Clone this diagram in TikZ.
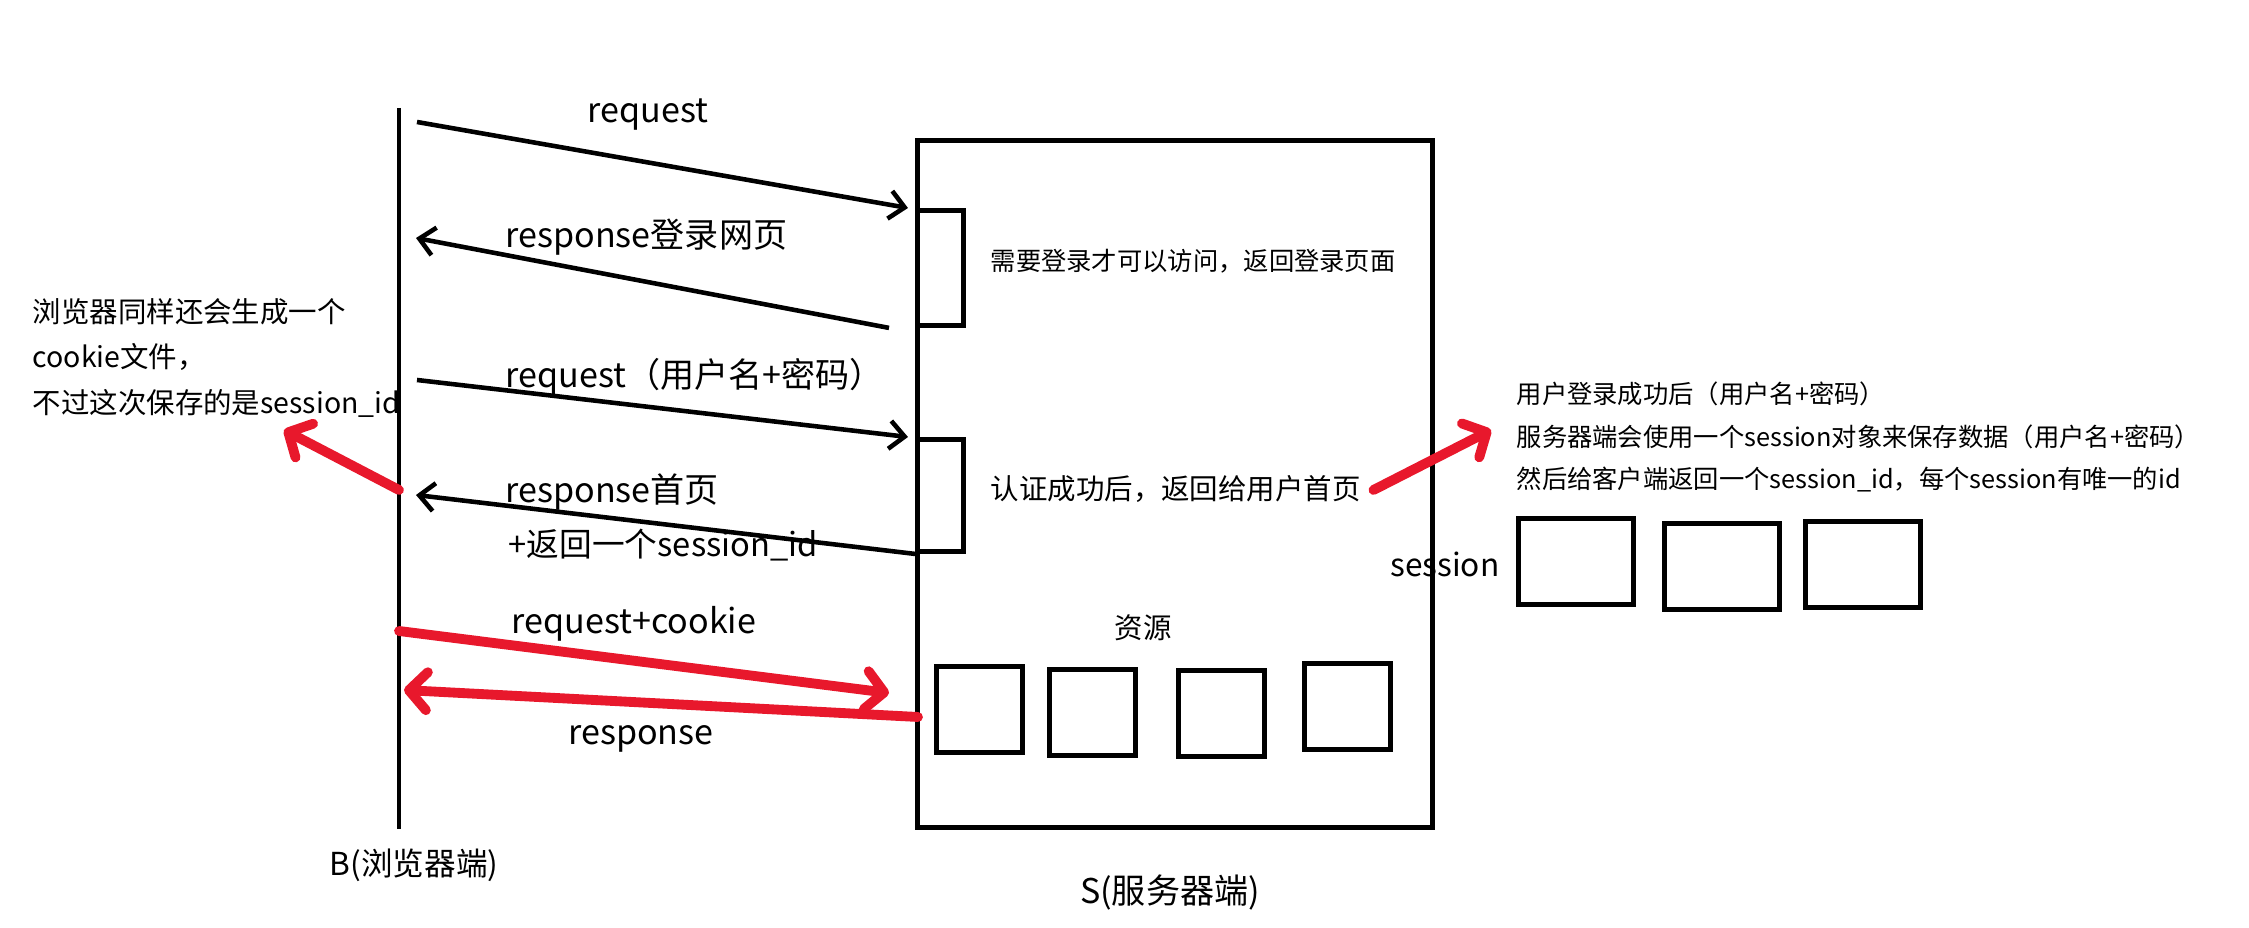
\documentclass[tikz,border=0pt]{standalone}
\usepackage{fontspec}
\setmainfont{Noto Sans CJK SC}
\usetikzlibrary{arrows.meta}
\definecolor{markred}{RGB}{232,24,44}

\begin{document}
\begin{tikzpicture}[
    msg/.style={line width=1.3pt, -{Straight Barb[length=1.5mm,width=2.8mm]}},
    hot/.style={line width=2.8pt, markred, line cap=round, -{Straight Barb[length=1.8mm,width=3.8mm,round]}},
    box/.style={draw, line width=1.4pt, inner sep=0pt, anchor=north west},
    lbl/.style={inner sep=0pt, font=\fontsize{9.7}{12}\selectfont},
    note/.style={inner sep=0pt, font=\fontsize{8.1}{13}\selectfont, align=left},
  ]
  \useasboundingbox (0,0) rectangle (22.49,-9.28);
  % browser side
  \coordinate (btop) at (3.99,-1.08);
  \coordinate (bbot) at (3.99,-8.29);
  \draw[line width=1.3pt] (btop) -- (bbot);
  % server side
  \node[box, minimum width=5.15cm, minimum height=6.87cm] (server) at (9.15,-1.38) {};
  \node[box, minimum width=0.46cm, minimum height=1.15cm] (chk1) at (9.15,-2.08) {};
  \node[box, minimum width=0.46cm, minimum height=1.12cm] (chk2) at (9.15,-4.37) {};
  \node[box, minimum size=0.86cm] (res1) at (9.34,-6.64) {};
  \node[box, minimum size=0.86cm] (res2) at (10.47,-6.67) {};
  \node[box, minimum size=0.86cm] (res3) at (11.76,-6.68) {};
  \node[box, minimum size=0.86cm] (res4) at (13.02,-6.61) {};
  \node[box, minimum width=1.15cm, minimum height=0.86cm] (sess1) at (15.16,-5.16) {};
  \node[box, minimum width=1.15cm, minimum height=0.86cm] (sess2) at (16.62,-5.21) {};
  \node[box, minimum width=1.15cm, minimum height=0.86cm] (sess3) at (18.03,-5.19) {};
  % texts
  \node[lbl] (reqA) at (6.48,-1.15) {request};
  \node[lbl, anchor=west] (respA) at (5.05,-2.37) {response登录网页};
  \node[note, font=\fontsize{7.2}{9}\selectfont, anchor=west] (needLogin) at (9.90,-2.61) {需要登录才可以访问，返回登录页面};
  \node[lbl, anchor=west] (reqB) at (5.05,-3.77) {request（用户名+密码）};
  \node[lbl, anchor=west] (respB) at (5.05,-4.92) {response首页};
  \node[lbl, font=\fontsize{9.3}{11}\selectfont, anchor=west] (sidB) at (5.08,-5.45) {+返回一个session\_id};
  \node[note, anchor=west] (authOk) at (9.90,-4.89) {认证成功后，返回给用户首页};
  \node[lbl] (reqC) at (6.34,-6.24) {request+cookie};
  \node[lbl] (respC) at (6.41,-7.39) {response};
  \node[note] (resTitle) at (11.43,-6.28) {资源};
  \node[lbl, font=\fontsize{9}{11}\selectfont, anchor=east] (sessTitle) at (15.00,-5.64) {session};
  \node[note, font=\fontsize{7.2}{12.2}\selectfont, anchor=west] (sessNote) at (15.16,-4.37) {用户登录成功后（用户名+密码）\\服务器端会使用一个session对象来保存数据（用户名+密码）\\然后给客户端返回一个session\_id，每个session有唯一的id};
  \node[note, anchor=west] (cookieNote) at (0.32,-3.58) {浏览器同样还会生成一个\\cookie文件，\\不过这次保存的是session\_id};
  \node[lbl, font=\fontsize{9}{11}\selectfont] (bLabel) at (4.14,-8.65) {B(浏览器端)};
  \node[lbl] (sLabel) at (11.70,-8.93) {S(服务器端)};
  % message ends on the browser line
  \coordinate (b1) at (4.17,-1.22);
  \coordinate (b2) at (4.16,-2.38);
  \coordinate (b3) at (4.17,-3.80);
  \coordinate (b4) at (4.16,-4.95);
  \coordinate (b5) at (3.99,-6.31);
  \coordinate (b6) at (4.04,-6.90);
  \coordinate (b7) at (3.99,-4.90);
  \coordinate (cookieTip) at (2.84,-4.30);
  \coordinate (cookieSrv) at (8.89,-6.93);
  \coordinate (srvOut) at (9.18,-7.17);
  % messages
  \draw[msg] (b1) -- ([xshift=-2pt]chk1.north west);
  \draw[msg] ([xshift=-0.26cm]chk1.south west) -- (b2);
  \draw[msg] (b3) -- ([xshift=-2pt]chk2.north west);
  \draw[msg] (chk2.south west) -- (b4);
  \draw[hot] (b5) -- (cookieSrv);
  \draw[hot] (srvOut) -- (b6);
  \draw[hot] (b7) -- (cookieTip);
  \draw[hot] ([xshift=0.12cm,yshift=-0.01cm]authOk.east) -- ([xshift=-0.25cm,yshift=0.07cm]sessNote.west);
\end{tikzpicture}
\end{document}
